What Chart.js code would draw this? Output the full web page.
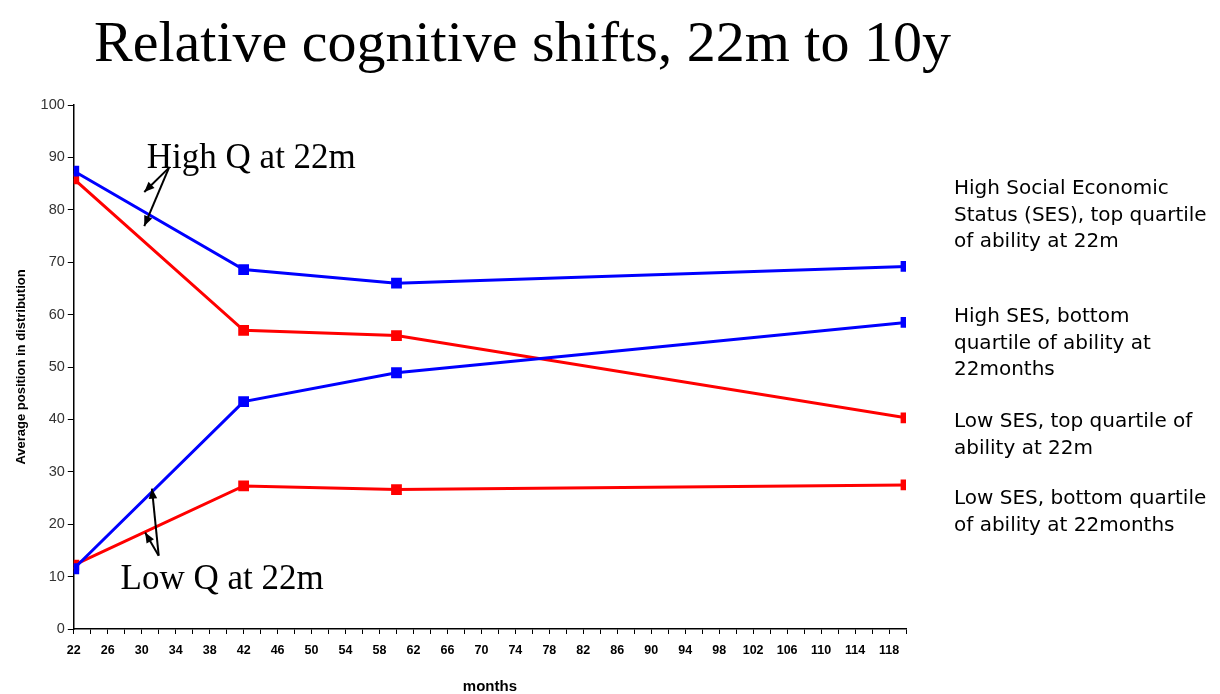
<!DOCTYPE html>
<html>
<head>
<meta charset="utf-8">
<script src="https://cdn.jsdelivr.net/npm/chart.js@4.4.1/dist/chart.umd.min.js"></script>
<style>
  body { margin: 0; background: #fff; }
  #wrap { position: relative; width: 1220px; height: 694px; overflow: hidden; }
  #chart { position: absolute; left: 0; top: 0; }
  h1 {
    position: absolute; left: 0; top: 8px; width: 1045px; margin: 0;
    text-align: center; font: 58px "Liberation Serif", serif; font-weight: normal; color: #000;
  }
  .note {
    position: absolute; left: 954px; width: 270px;
    font: 20px "DejaVu Sans", sans-serif; line-height: 26.5px; color: #000;
  }
</style>
</head>
<body>
<div id="wrap">
  <canvas id="chart" width="1220" height="700"></canvas>
  <h1>Relative cognitive shifts, 22m to 10y</h1>
  <div class="note" style="top:174px">High Social Economic<br>Status (SES), top quartile<br>of ability at 22m</div>
  <div class="note" style="top:302px">High SES, bottom<br>quartile of ability at<br>22months</div>
  <div class="note" style="top:407px">Low SES, top quartile of<br>ability at 22m</div>
  <div class="note" style="top:484px">Low SES, bottom quartile<br>of ability at 22months</div>
</div>
<script>
// Mois de mesure
const months = [22, 42, 60, 120];

// Positions moyennes dans la distribution
const highSesTopQ = [87.4, 68.6, 66.0, 69.2];
const lowSesTopQ = [85.9, 57.0, 56.0, 40.3];
const highSesBottomQ = [11.5, 43.4, 48.9, 58.5];
const lowSesBottomQ = [12.2, 27.3, 26.6, 27.5];

const BLUE = '#0000ff';
const RED = '#ff0000';

function toPoints(values) {
    return months.map((m, i) => ({ x: m, y: values[i] }));
}

function makeSet(label, values, color) {
    return {
        label: label,
        data: toPoints(values),
        borderColor: color,
        backgroundColor: color,
        borderWidth: 3,
        pointStyle: 'rect',
        pointRadius: 5.5,
        pointHoverRadius: 5.5,
        tension: 0
    };
}

// Annotations "High Q" / "Low Q" avec flèches, placées en coordonnées de données
const notes = [
    { text: 'High Q at 22m', x: 30.6, y: 88.0, from: [33.2, 88.0], to: [[30.3, 83.4], [30.3, 76.9]] },
    { text: 'Low Q at 22m', x: 27.5, y: 7.6, from: [32.0, 14.0], to: [[31.2, 26.8], [30.4, 18.4]] }
];

const annotationPlugin = {
    id: 'notes',
    afterDatasetsDraw(chart) {
        const ctx = chart.ctx;
        const xs = chart.scales.x;
        const ys = chart.scales.y;
        ctx.save();
        ctx.fillStyle = '#000';
        ctx.strokeStyle = '#000';
        ctx.font = '35px "Liberation Serif", serif';
        ctx.textBaseline = 'alphabetic';
        notes.forEach(n => {
            ctx.fillText(n.text, xs.getPixelForValue(n.x), ys.getPixelForValue(n.y));
            const fx = xs.getPixelForValue(n.from[0]);
            const fy = ys.getPixelForValue(n.from[1]);
            n.to.forEach(t => {
                const tx = xs.getPixelForValue(t[0]);
                const ty = ys.getPixelForValue(t[1]);
                ctx.lineWidth = 2;
                ctx.beginPath();
                ctx.moveTo(fx, fy);
                ctx.lineTo(tx, ty);
                ctx.stroke();
                // tête de flèche
                const a = Math.atan2(ty - fy, tx - fx);
                const len = 11;
                ctx.beginPath();
                ctx.moveTo(tx, ty);
                ctx.lineTo(tx - len * Math.cos(a - 0.4), ty - len * Math.sin(a - 0.4));
                ctx.lineTo(tx - len * Math.cos(a + 0.4), ty - len * Math.sin(a + 0.4));
                ctx.closePath();
                ctx.fill();
            });
        });
        ctx.restore();
    }
};

const chart = new Chart(document.getElementById('chart'), {
    type: 'line',
    data: {
        datasets: [
            makeSet('High SES, top quartile', highSesTopQ, BLUE),
            makeSet('High SES, bottom quartile', highSesBottomQ, BLUE),
            makeSet('Low SES, top quartile', lowSesTopQ, RED),
            makeSet('Low SES, bottom quartile', lowSesBottomQ, RED)
        ]
    },
    options: {
        responsive: false,
        animation: false,
        layout: { padding: { left: 10, right: 314, top: 105, bottom: 0 } },
        plugins: {
            legend: { display: false },
            tooltip: { enabled: false }
        },
        scales: {
            x: {
                type: 'linear',
                min: 22,
                max: 120,
                ticks: {
                    stepSize: 2,
                    autoSkip: false,
                    maxRotation: 0,
                    padding: 9,
                    color: '#000',
                    font: { family: 'Liberation Sans', size: 12.5, weight: 'bold' },
                    callback: v => ((v - 22) % 4 === 0 && v <= 118) ? String(v) : ''
                },
                grid: { display: true, drawOnChartArea: false, drawTicks: true, tickLength: 5, color: '#000' },
                border: { color: '#000', width: 1.5 },
                title: {
                    display: true,
                    text: 'months',
                    color: '#000',
                    font: { family: 'Liberation Sans', size: 15, weight: 'bold' },
                    padding: { top: 11 }
                }
            },
            y: {
                min: 0,
                max: 100,
                ticks: {
                    stepSize: 10,
                    color: '#333',
                    font: { family: 'Liberation Sans', size: 14.5 }
                },
                grid: { display: true, drawOnChartArea: false, drawTicks: true, tickLength: 6, color: '#000' },
                border: { color: '#000', width: 1.5 },
                title: {
                    display: true,
                    text: 'Average position in distribution',
                    color: '#000',
                    font: { family: 'Liberation Sans', size: 13, weight: 'bold' },
                    padding: { bottom: 8 }
                }
            }
        }
    },
    plugins: [annotationPlugin]
});
</script>
</body>
</html>
